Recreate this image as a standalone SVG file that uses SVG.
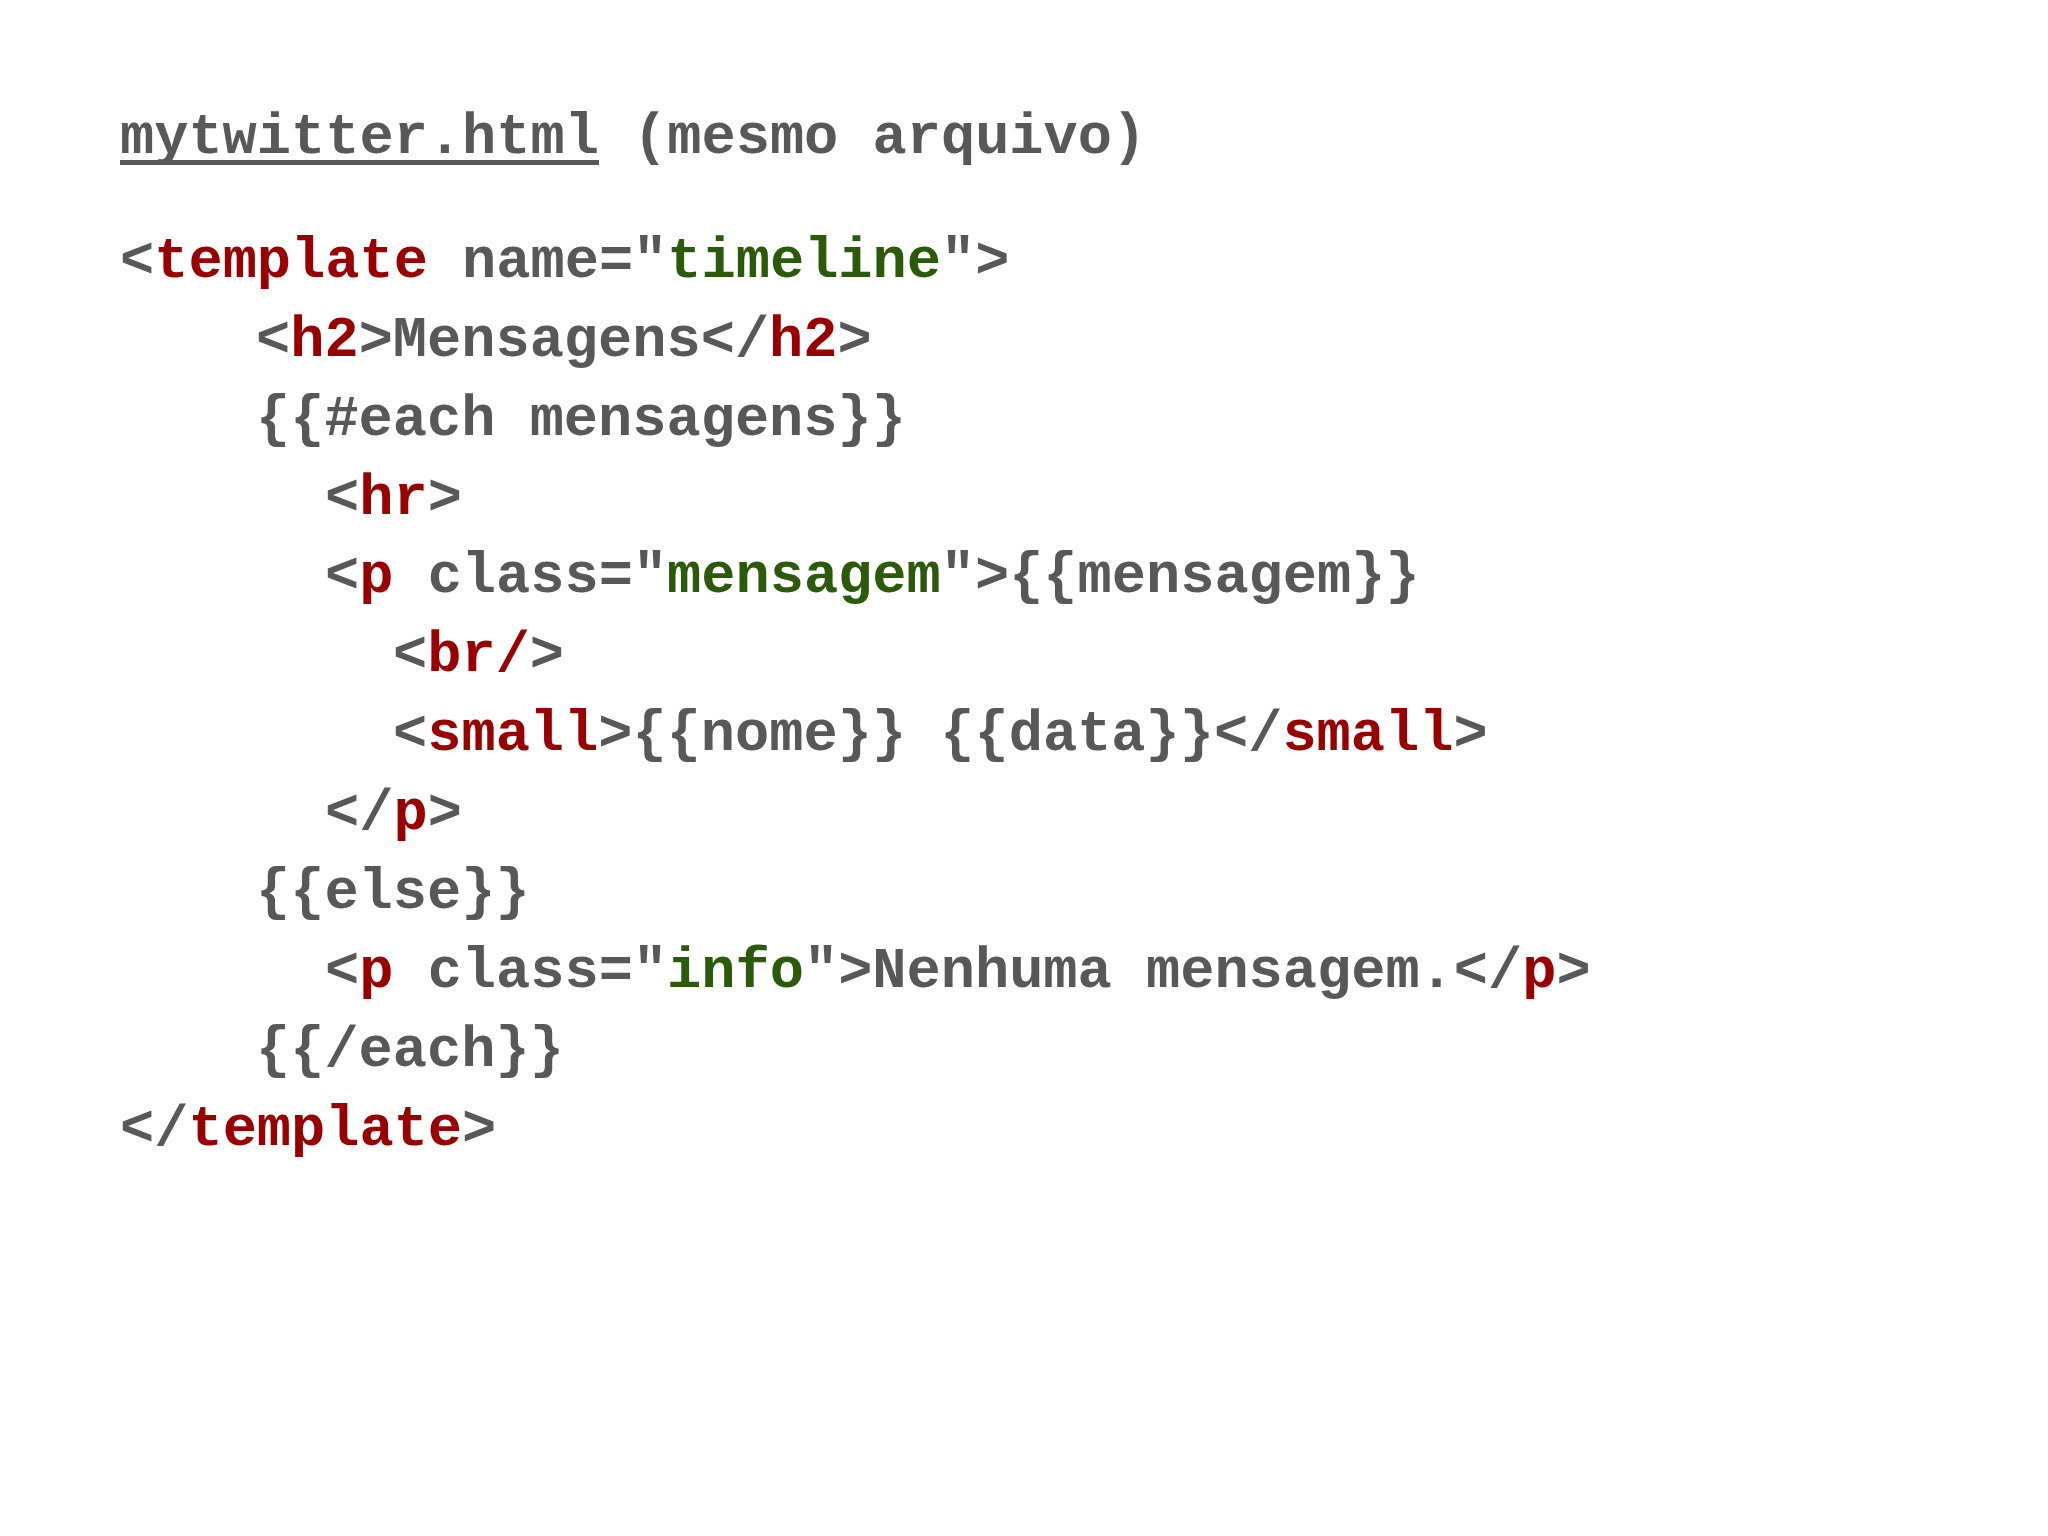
<svg xmlns="http://www.w3.org/2000/svg" width="2048" height="1536" viewBox="0 0 2048 1536">
<style>
text{font-family:"Liberation Mono","Courier New",monospace;font-weight:bold;font-size:57px;fill:#585858;white-space:pre}
.r{fill:#990000}.g{fill:#2a5a0a}
</style>
<rect width="2048" height="1536" fill="#ffffff"/>
<g id="title">
<text x="120" y="153">mytwitter.html (mesmo arquivo)</text>
<rect x="120" y="160" width="479" height="5" fill="#585858"/>
</g>
<g id="code">
<text x="120" y="277">&lt;<tspan class="r">template</tspan> name="<tspan class="g">timeline</tspan>"&gt;</text>
<text x="256" y="356">&lt;<tspan class="r">h2</tspan>&gt;Mensagens&lt;/<tspan class="r">h2</tspan>&gt;</text>
<text x="256" y="435">{{#each mensagens}}</text>
<text x="325" y="514">&lt;<tspan class="r">hr</tspan>&gt;</text>
<text x="325" y="592">&lt;<tspan class="r">p</tspan> class="<tspan class="g">mensagem</tspan>"&gt;{{mensagem}}</text>
<text x="393" y="671">&lt;<tspan class="r">br/</tspan>&gt;</text>
<text x="393" y="750">&lt;<tspan class="r">small</tspan>&gt;{{nome}} {{data}}&lt;/<tspan class="r">small</tspan>&gt;</text>
<text x="325" y="829">&lt;/<tspan class="r">p</tspan>&gt;</text>
<text x="256" y="908">{{else}}</text>
<text x="325" y="987">&lt;<tspan class="r">p</tspan> class="<tspan class="g">info</tspan>"&gt;Nenhuma mensagem.&lt;/<tspan class="r">p</tspan>&gt;</text>
<text x="256" y="1066">{{/each}}</text>
<text x="120" y="1145">&lt;/<tspan class="r">template</tspan>&gt;</text>
</g>
</svg>
